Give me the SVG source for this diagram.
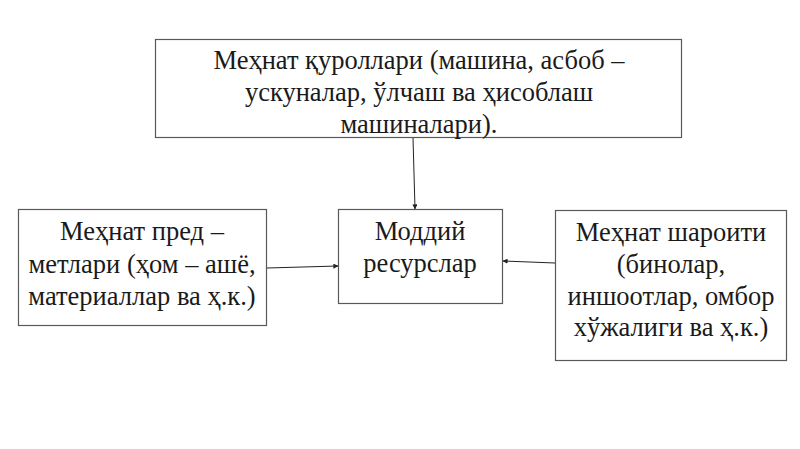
<svg xmlns="http://www.w3.org/2000/svg" width="800" height="449" viewBox="0 0 800 449">
<defs>
<marker id="arr" viewBox="0 0 6 6" refX="5.5" refY="3" markerWidth="5" markerHeight="5" orient="auto" markerUnits="userSpaceOnUse">
<path d="M0,0 L6,3 L0,6 z" fill="#222"/>
</marker>
</defs>
<style>
.box{fill:#fff;stroke:#595959;stroke-width:1.2}
.t{font-family:"Liberation Serif","Times New Roman",serif;font-size:26.5px;fill:#1a1a1a;text-anchor:middle}
.c{stroke:#222;stroke-width:1;fill:none;marker-end:url(#arr)}
</style>
<rect width="800" height="449" fill="#fff"/>
<g id="tools">
<rect class="box" x="155.5" y="39.5" width="526" height="98"/>
<text class="t" x="419" y="69">Меҳнат қуроллари (машина, асбоб –</text>
<text class="t" x="419" y="101">ускуналар, ўлчаш ва ҳисоблаш</text>
<text class="t" x="419" y="133">машиналари).</text>
</g>
<g id="objects">
<rect class="box" x="18.5" y="209.5" width="248" height="116"/>
<text class="t" x="142" y="240">Меҳнат пред –</text>
<text class="t" x="142" y="273">метлари (ҳом – ашё,</text>
<text class="t" x="142" y="305">материаллар ва ҳ.к.)</text>
</g>
<g id="material">
<rect class="box" x="338.5" y="209.5" width="164" height="94"/>
<text class="t" x="420" y="240">Моддий</text>
<text class="t" x="420" y="272">ресурслар</text>
</g>
<g id="conditions">
<rect class="box" x="555.5" y="210.5" width="231" height="150"/>
<text class="t" x="671" y="241">Меҳнат шароити</text>
<text class="t" x="671" y="273">(бинолар,</text>
<text class="t" x="671" y="305">иншоотлар, омбор</text>
<text class="t" x="671" y="336">хўжалиги ва ҳ.к.)</text>
</g>
<g id="connectors">
<line class="c" x1="413" y1="138" x2="415" y2="209"/>
<line class="c" x1="267" y1="268" x2="338" y2="266"/>
<line class="c" x1="555" y1="263" x2="503" y2="261"/>
</g>
</svg>
